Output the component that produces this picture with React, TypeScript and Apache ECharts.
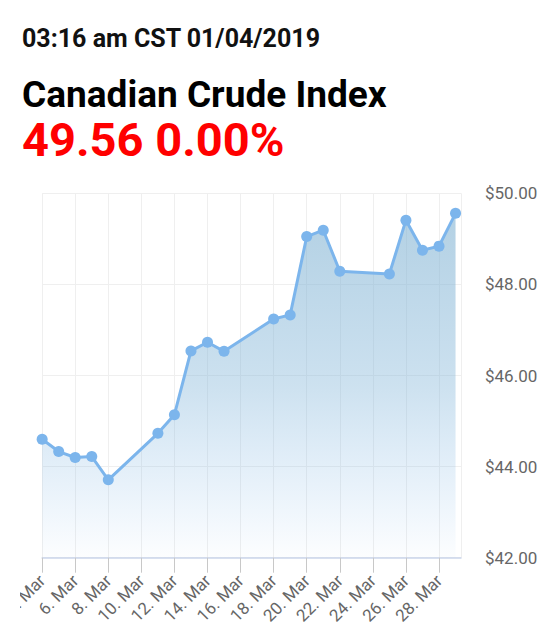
import React, { useEffect, useRef } from "react";
import * as echarts from "echarts";

// Day of March 2019 for each close
const days: number[] = [4, 5, 6, 7, 8, 11, 12, 13, 14, 15, 18, 19, 20, 21, 22, 25, 26, 27, 28, 29];
const prices: number[] = [
  44.6, 44.33, 44.2, 44.22, 43.71, 44.73, 45.14, 46.54, 46.73, 46.53,
  47.24, 47.33, 49.05, 49.19, 48.29, 48.23, 49.41, 48.75, 48.84, 49.56,
];
const yTicks = { min: 42, max: 50, interval: 2 };
const xTicks = { min: 4, max: 29.33, interval: 2 };
const timestampText = "03:16 am CST 01/04/2019";
const titleText = "Canadian Crude Index";
const quoteText = "49.56 0.00%";

export default function App() {
  const ref = useRef<HTMLDivElement>(null);
  useEffect(() => {
    if (!ref.current) return;
    const chart = echarts.init(ref.current, undefined, { renderer: "svg" });
    const font = "Roboto, 'Noto Sans', sans-serif";
    chart.setOption({
      animation: false,
      backgroundColor: "#ffffff",
      textStyle: { fontFamily: font },
      graphic: [
        {
          type: "text",
          left: 22,
          y: 38.5,
          style: {
            text: timestampText,
            font: `bold 25px ${font}`,
            lineHeight: 26,
            fill: "#111111",
            verticalAlign: "middle",
          },
        },
        {
          type: "text",
          left: 22,
          y: 94.5,
          style: {
            text: titleText,
            font: `bold 37px ${font}`,
            lineHeight: 36,
            fill: "#000000",
            verticalAlign: "middle",
          },
        },
        {
          type: "text",
          left: 22,
          y: 139,
          style: {
            text: quoteText,
            font: `bold 47px ${font}`,
            lineHeight: 42,
            fill: "#ff0000",
            verticalAlign: "middle",
          },
        },
        {
          type: "rect",
          shape: { x: 0, y: 562, width: 20, height: 72 },
          style: { fill: "#ffffff" },
          z: 100,
        },
      ],
      grid: { left: 39, right: 89, top: 193.3, bottom: 76.3, containLabel: false },
      xAxis: {
        type: "value",
        min: xTicks.min,
        max: xTicks.max,
        interval: xTicks.interval,
        axisLine: { show: true, lineStyle: { color: "#ccd6eb", width: 1.5 } },
        axisTick: { show: true, length: 15, lineStyle: { color: "#c8c8c8", width: 1 } },
        splitLine: { show: true, lineStyle: { color: "#efefef", width: 1 } },
        axisLabel: {
          rotate: 45,
          margin: 20,
          fontSize: 17,
          color: "#666666",
          showMaxLabel: false,
          formatter: (v: number) => `${v}. Mar`,
        },
      },
      yAxis: {
        type: "value",
        position: "right",
        min: yTicks.min,
        max: yTicks.max,
        interval: yTicks.interval,
        axisLine: { show: false },
        axisTick: { show: false },
        splitLine: { show: true, lineStyle: { color: "#efefef", width: 1 } },
        axisLabel: {
          margin: 24,
          fontSize: 17,
          color: "#666666",
          formatter: (v: number) => `$${v.toFixed(2)}`,
        },
      },
      series: [
        {
          type: "line",
          data: days.map((d, i) => [d, prices[i]]),
          symbol: "circle",
          symbolSize: 11,
          showSymbol: true,
          lineStyle: { color: "#7cb5ec", width: 3 },
          itemStyle: { color: "#7cb5ec" },
          areaStyle: {
            color: new echarts.graphic.LinearGradient(0, 0, 0, 1, [
              { offset: 0, color: "rgba(135,182,212,0.9)" },
              { offset: 0.5, color: "rgba(125,178,215,0.55)" },
              { offset: 1, color: "rgba(124,181,236,0.03)" },
            ]),
          },
        },
      ],
    });
    return () => chart.dispose();
  }, []);
  return (
    <div
      ref={ref}
      style={{ position: "fixed", left: 0, top: 0, width: 550, height: 634 }}
    />
  );
}
